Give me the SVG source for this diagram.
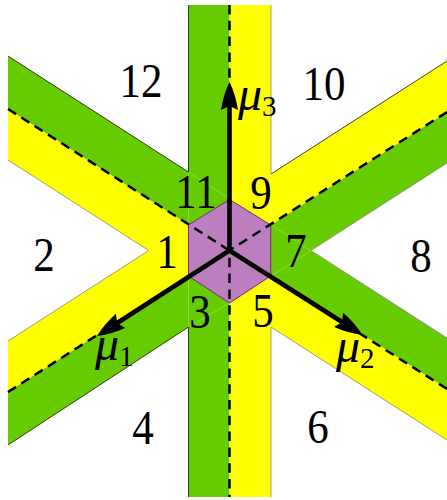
<svg xmlns="http://www.w3.org/2000/svg" width="447" height="500" viewBox="0 0 447 500">
<style>
.g{fill:#66cc00}.y{fill:#ffff00}
.e{fill:none;stroke:#777;stroke-width:.7}
.k{fill:none;stroke:#111;stroke-width:.8}
.s{fill:none;stroke:#fff;stroke-opacity:.4;stroke-width:.6}
.d{fill:none;stroke:#000;stroke-width:2.5;stroke-dasharray:9.5 6.3}
.a{fill:none;stroke:#000;stroke-width:4.6;marker-end:url(#h)}
text{font-family:"Liberation Serif","Times New Roman",serif;fill:#000}
.n{font-size:43px;text-anchor:middle}
.m{font-size:48px;font-style:italic}
.m tspan{font-size:29px;font-style:normal}
</style>
<defs>
<marker id="h" markerUnits="userSpaceOnUse" markerWidth="32" markerHeight="20" refX="4" refY="10" orient="auto" viewBox="0 0 32 20"><path d="M0,1.5 Q16,4 28,10 Q16,16 0,18.5 L4,10 Z" fill="#000"/></marker>
</defs>
<g id="bands">
<polygon class="g" points="8,56 188.5,172 229.5,199 188.5,225 8,109"/>
<polygon class="y" points="8,109 188.5,225 188.5,276 8,160"/>
<polygon class="y" points="8,341 188.5,225 188.5,276 8,392"/>
<polygon class="g" points="8,392 188.5,276 229.5,303 188.5,327 8,445"/>
<polygon class="y" points="271,174 447,61 447,112 271,225 229.5,199"/>
<polygon class="g" points="447,112 271,225 271,276 447,163"/>
<polygon class="g" points="447,338 271,225 271,276 447,389"/>
<polygon class="y" points="447,389 271,276 229.5,303 271,327 447,440"/>
<rect class="g" x="188.5" y="5" width="41" height="492"/>
<rect class="y" x="229.5" y="5" width="41.5" height="492"/>
</g>
<g id="seams">
<path class="s" d="M188.5,172V225M271,174V225M188.5,276V327M271,276V327M188.5,172L229.5,199M271,174L229.5,199M188.5,327L229.5,303M271,327L229.5,303M188.5,225L148.7,250.5L188.5,276M271,225L311,250.5L271,276"/>
</g>
<g id="edges">
<path class="k" d="M8,56L188.5,172M8,445L188.5,327M447,61L271,174M188.5,5V172M188.5,327V497"/>
<path class="e" d="M8,160L148.7,250.5L8,341M447,163L311,250.5L447,338M447,440L271,327M271,5V174M271,327V497"/>
</g>
<g id="hexagon">
<polygon points="229.5,199.5 270.7,225 270.7,276 229.5,303 188.5,276 188.5,225" fill="#bb7fbf" stroke="#8b1a8b" stroke-width="1"/>
</g>
<g id="connectors">
<path class="d" d="M8,109L229.5,250.5M447,112L229.5,250.5M229.5,5V497M8,392L229.5,250.5M447,389L229.5,250.5"/>
<path class="a" d="M229.5,250.5V106"/>
<path class="a" d="M229.5,250.5L117.2,323"/>
<path class="a" d="M229.5,250.5L342,322"/>
</g>
<g id="labels">
<text class="n" transform="translate(141,97) scale(1,1.12)">12</text>
<text class="n" transform="translate(324,100) scale(1,1.12)">10</text>
<text class="n" transform="translate(196,208) scale(1,1.12)">11</text>
<text class="n" transform="translate(261,209) scale(1,1.12)">9</text>
<text class="n" transform="translate(44,271) scale(1,1.12)">2</text>
<text class="n" transform="translate(421,272) scale(1,1.12)">8</text>
<text class="n" transform="translate(167,268) scale(1,1.12)">1</text>
<text class="n" transform="translate(296,267) scale(1,1.12)">7</text>
<text class="n" transform="translate(200,328) scale(1,1.12)">3</text>
<text class="n" transform="translate(263,327) scale(1,1.12)">5</text>
<text class="n" transform="translate(143,444) scale(1,1.12)">4</text>
<text class="n" transform="translate(318,443) scale(1,1.12)">6</text>
<text class="m" transform="translate(238,110)">μ<tspan dy="6">3</tspan></text>
<text class="m" transform="translate(95,360)">μ<tspan dy="6">1</tspan></text>
<text class="m" transform="translate(336,362)">μ<tspan dy="6">2</tspan></text>
</g>
</svg>
